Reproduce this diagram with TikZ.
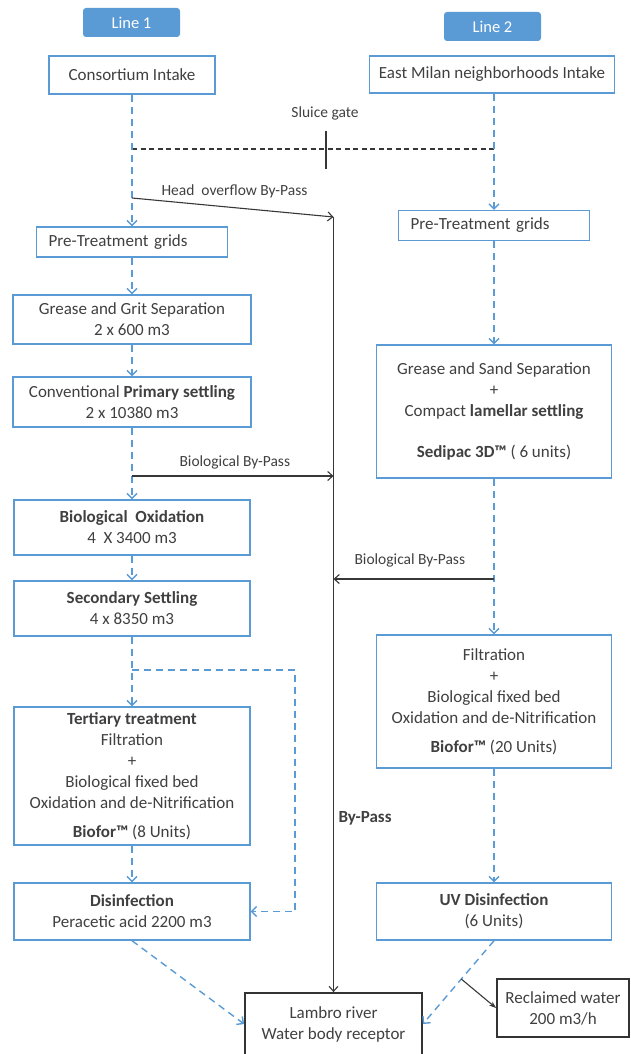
\documentclass[tikz,border=0pt]{standalone}
\usepackage{fontspec}
\setmainfont{Carlito}
\usepackage{tikz}
\usetikzlibrary{calc}
\usetikzlibrary{arrows.meta}
\usetikzlibrary{positioning}
\definecolor{lineblue}{RGB}{91,155,213}
\definecolor{textgray}{RGB}{64,64,64}
\definecolor{pipegray}{RGB}{55,55,55}
\tikzset{
  unitbox/.style args={#1,#2}{shape=rectangle,draw=lineblue,line width=1.4pt,fill=white,align=center,inner sep=0pt,minimum width=#1pt,minimum height=#2pt},
  gridbox/.style={shape=rectangle,draw=lineblue,line width=1.4pt,fill=white,align=left,inner xsep=12pt,inner ysep=0pt,text width=167pt,minimum height=30pt,anchor=west},
  tabbox/.style={shape=rectangle,fill=lineblue,rounded corners=3pt,text=white,font=\fontsize{16.5}{19}\selectfont,minimum width=97pt,minimum height=29pt},
  outbox/.style args={#1,#2}{shape=rectangle,draw=black!80,line width=1.8pt,fill=white,align=center,inner sep=0pt,minimum width=#1pt,minimum height=#2pt},
  note/.style={font=\fontsize{15.5}{19}\selectfont},
  flow/.style={draw=lineblue,line width=1.4pt,dash pattern=on 7pt off 5pt,-{Straight Barb[length=5pt,width=10pt]}},
  pipe/.style={draw=pipegray,line width=1.1pt,-{Straight Barb[length=5pt,width=9pt]}},
  gateline/.style={draw=pipegray,line width=1.2pt,dash pattern=on 5pt off 3.5pt}
}

\begin{document}
\begin{tikzpicture}[x=1pt, y=-1pt, every node/.style={text=textgray, font=\fontsize{17}{21}\selectfont}]
\useasboundingbox (0,0) rectangle (630,1054);
\node[tabbox] (lineone) at (131.5,22.5) {Line 1};
\node[unitbox={166,38}] (consortium) at (132,75) {Consortium Intake};
\node[gridbox] (gridsone) at (36,242) {Pre-Treatment grids};
\node[unitbox={238,49}] (grit) at (132,319.5) {Grease and Grit Separation\\2 x 600 m3};
\node[unitbox={238,50}] (primary) at (132,402) {Conventional \textbf{Primary settling}\\2 x 10380 m3};
\node[unitbox={236,55}] (biooxid) at (132,527.5) {\textbf{Biological\ \ Oxidation}\\4 \ X 3400 m3};
\node[unitbox={236,55}] (secondary) at (132,608.5) {\textbf{Secondary Settling}\\4 x 8350 m3};
\node[unitbox={236,138}] (tertiary) at (132,776) {\textbf{Tertiary treatment}\\Filtration\\+\\Biological fixed bed\\Oxidation and de-Nitrification\\[8pt]\textbf{Biofor™} (8 Units)};
\node[unitbox={236,57}] (disinf) at (132,911.5) {\textbf{Disinfection}\\Peracetic acid 2200 m3};
\node[tabbox] (linetwo) at (492.5,26.5) {Line 2};
\node[unitbox={245,37}] (eastmilan) at (492,74.5) {East Milan neighborhoods Intake};
\node[gridbox] (gridstwo) at (398,225.5) {Pre-Treatment grids};
\node[unitbox={235,133}] (sand) at (494,411.5) {Grease and Sand Separation\\+\\Compact \textbf{lamellar settling}\\[20pt]\textbf{Sedipac 3D™} ( 6 units)};
\node[unitbox={235,133}] (filtertwo) at (494,701.5) {Filtration\\+\\Biological fixed bed\\Oxidation and de-Nitrification\\[8pt]\textbf{Biofor™} (20 Units)};
\node[unitbox={235,57}] (uv) at (494,911.5) {\textbf{UV Disinfection}\\(6 Units)};
\node[outbox={177,62}] (lambro) at (333.5,1024) {Lambro river\\Water body receptor};
\node[outbox={132,58}] (reclaimed) at (563,1008) {Reclaimed water\\200 m3/h};
\node[note] (gatelabel) at (325,113) {Sluice gate};
\node[note, anchor=west] (overflowlabel) at (158,191) {Head\ \ overflow By-Pass};
\node[note, anchor=west] (biolabelone) at (176,462) {Biological By-Pass};
\node[note, anchor=west] (biolabeltwo) at (351,560) {Biological By-Pass};
\node[anchor=west, font=\fontsize{17}{21}\selectfont\bfseries] (bypasslabel) at (335,818) {By-Pass};
\coordinate (gateleft) at (132,149);
\coordinate (gateright) at (494,149);
\coordinate (gatetop) at (326,131);
\coordinate (gatebottom) at (326,169);
\coordinate (overflow) at (132,198);
\coordinate (bypasstop) at (333.5,217);
\coordinate (biosplit) at (132,476);
\coordinate (biosplittwo) at (494,579);
\coordinate (branch) at (132,670);
\coordinate (branchcorner) at (295,670);
\draw[gateline] (gateleft) -- (gateright);
\draw[pipegray, line width=1.4pt] (gatetop) -- (gatebottom);
\draw[flow] (consortium) -- (consortium.south |- gridsone.north);
\draw[flow] (sand.north |- eastmilan.south) -- (sand.north |- gridstwo.north);
\draw[flow] (grit.north |- gridsone.south) -- (grit);
\draw[flow] (sand.north |- gridstwo.south) -- (sand);
\foreach \a/\b in {grit/primary, primary/biooxid, biooxid/secondary, secondary/tertiary, tertiary/disinf, sand/filtertwo, filtertwo/uv}
  \draw[flow] (\a) -- (\b);
\draw[flow] (branch) -- (branchcorner) |- (disinf.east);
\draw[flow] (disinf.south) -- (lambro.west);
\draw[flow] (uv.south) -- (lambro.east);
\draw[pipe] (overflow) -- (bypasstop);
\draw[pipe] (bypasstop) -- (lambro.north);
\draw[pipe] (biosplit) -- (biosplit -| lambro.north);
\draw[pipe] (biosplittwo) -- (biosplittwo -| lambro.north);
\coordinate (reclaimsplit) at ($(uv.south)!0.46!(lambro.east)$);
\draw[pipe, -{Stealth[length=7pt,width=5pt]}] (reclaimsplit) -- (reclaimed.west);
\end{tikzpicture}
\end{document}
